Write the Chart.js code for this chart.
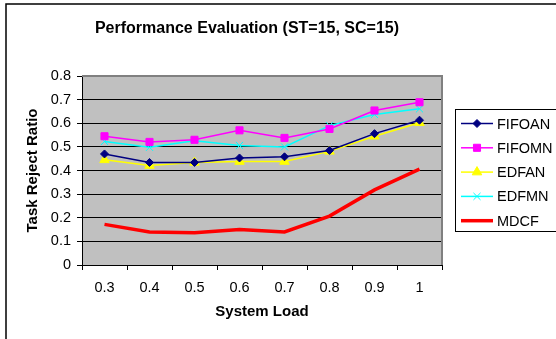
<!DOCTYPE html>
<html>
<head>
<meta charset="utf-8">
<script src="https://cdn.jsdelivr.net/npm/chart.js@4/dist/chart.umd.min.js"></script>
<style>
  body { margin: 0; background: #fff; }
</style>
</head>
<body>
<canvas id="chart" width="556" height="339"></canvas>
<script>
var loads = ['0.3', '0.4', '0.5', '0.6', '0.7', '0.8', '0.9', '1'];
var fifoan = [0.47, 0.434, 0.434, 0.453, 0.458, 0.485, 0.556, 0.613];
var fifomn = [0.545, 0.521, 0.53, 0.57, 0.538, 0.576, 0.654, 0.689];
var edfan  = [0.445, 0.421, 0.434, 0.438, 0.438, 0.481, 0.545, 0.602];
var edfmn  = [0.523, 0.498, 0.526, 0.506, 0.5, 0.59, 0.637, 0.661];
var mdcf   = [0.172, 0.14, 0.136, 0.15, 0.14, 0.207, 0.318, 0.406];
var yTicks = [0, 0.1, 0.2, 0.3, 0.4, 0.5, 0.6, 0.7, 0.8];

// grey plot area, frame, title and the boxed legend
var excelLook = {
  id: 'excelLook',
  beforeDraw: function(chart) {
    var ctx = chart.ctx, a = chart.chartArea;
    ctx.save();
    ctx.fillStyle = '#c0c0c0';
    ctx.fillRect(a.left, a.top, a.right - a.left, a.bottom - a.top);
    ctx.strokeStyle = '#000';
    ctx.lineWidth = 1.5;
    ctx.strokeRect(6, 4, 600, 400);
    ctx.restore();
  },
  beforeDatasetsDraw: function(chart) {
    var ctx = chart.ctx, a = chart.chartArea;
    ctx.save();
    ctx.strokeStyle = '#808080';
    ctx.lineWidth = 2;
    ctx.beginPath();
    ctx.moveTo(a.left, a.top);
    ctx.lineTo(a.right, a.top);
    ctx.lineTo(a.right, a.bottom);
    ctx.stroke();
    ctx.restore();
  },
  afterDraw: function(chart) {
    var ctx = chart.ctx;
    ctx.save();
    ctx.fillStyle = '#000';
    ctx.font = 'bold 16px "Liberation Sans", Arial, sans-serif';
    ctx.textAlign = 'center';
    ctx.textBaseline = 'middle';
    ctx.fillText('Performance Evaluation (ST=15, SC=15)', 247, 29);

    ctx.strokeStyle = '#000';
    ctx.lineWidth = 1;
    ctx.strokeRect(455.5, 109.5, 200, 122);
    ctx.font = '14.5px "Liberation Sans", Arial, sans-serif';
    ctx.textAlign = 'left';
    chart.data.datasets.forEach(function(ds, i) {
      var y = 123.5 + i * 24.3;
      ctx.strokeStyle = ds.borderColor;
      ctx.lineWidth = ds.borderWidth;
      ctx.beginPath();
      ctx.moveTo(461, y);
      ctx.lineTo(493, y);
      ctx.stroke();
      if (ds.pointRadius > 0) {
        ctx.fillStyle = ds.pointBackgroundColor;
        ctx.strokeStyle = ds.pointBorderColor;
        ctx.lineWidth = 1;
        Chart.helpers.drawPoint(ctx, {pointStyle: ds.pointStyle, radius: ds.pointRadius, rotation: 0, borderWidth: 1}, 477, y);
      }
      ctx.fillStyle = '#000';
      ctx.fillText(ds.label, 497, y + 1);
    });
    ctx.restore();
  }
};

function series(label, data, color, style, radius, width) {
  return {
    label: label,
    data: data,
    borderColor: color,
    backgroundColor: color,
    borderWidth: width,
    pointStyle: style,
    pointRadius: radius,
    pointHoverRadius: radius,
    pointBackgroundColor: color,
    pointBorderColor: color,
    pointBorderWidth: 1,
    tension: 0
  };
}

new Chart(document.getElementById('chart').getContext('2d'), {
  type: 'line',
  data: {
    labels: loads,
    datasets: [
      series('FIFOAN', fifoan, '#000080', 'rectRot', 4, 1.5),
      series('FIFOMN', fifomn, '#ff00ff', 'rect', 5, 1.5),
      series('EDFAN', edfan, '#ffff00', 'triangle', 5.5, 1.5),
      series('EDFMN', edfmn, '#00ffff', 'crossRot', 5, 1.5),
      series('MDCF', mdcf, '#ff0000', 'circle', 0, 3.5)
    ]
  },
  plugins: [excelLook],
  options: {
    responsive: false,
    animation: false,
    layout: { padding: { left: 24, right: 114, top: 76, bottom: 18 } },
    plugins: {
      legend: { display: false },
      title: { display: false },
      tooltip: { enabled: false }
    },
    scales: {
      x: {
        type: 'category',
        offset: true,
        afterFit: function(s) { s.height = 56; },
        grid: { offset: true, drawOnChartArea: false, drawTicks: true, tickLength: 5, color: '#000' },
        border: { color: '#000', width: 1 },
        ticks: { color: '#000', padding: 9, font: { family: '"Liberation Sans", Arial', size: 14.5 }, maxRotation: 0 },
        title: {
          display: true, text: 'System Load', color: '#000', padding: 0,
          font: { family: '"Liberation Sans", Arial', size: 15, weight: 'bold', lineHeight: 1.2 }
        }
      },
      y: {
        min: 0,
        max: 0.8,
        afterFit: function(s) { s.width = 58; },
        afterBuildTicks: function(s) { s.ticks = yTicks.map(function(v) { return { value: v }; }); },
        grid: { color: '#000', tickLength: 5, drawTicks: true },
        border: { color: '#000', width: 1 },
        ticks: { color: '#000', padding: 6, font: { family: '"Liberation Sans", Arial', size: 14.5 } },
        title: {
          display: true, text: 'Task Reject Ratio', color: '#000', padding: 0,
          font: { family: '"Liberation Sans", Arial', size: 15, weight: 'bold', lineHeight: 1.2 }
        }
      }
    }
  }
});
</script>
</body>
</html>
